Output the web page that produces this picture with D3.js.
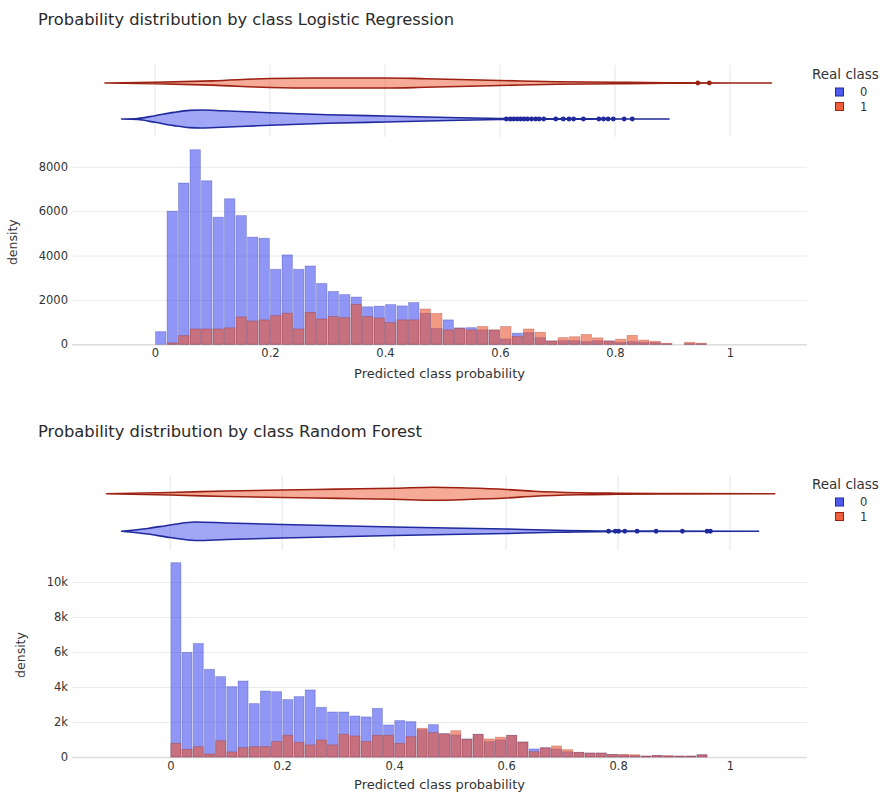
<!DOCTYPE html>
<html>
<head>
<meta charset="utf-8">
<script src="https://cdn.jsdelivr.net/npm/d3@7"></script>
<style>
  body { margin: 0; background: #fff; }
  svg { display: block; font-family: "DejaVu Sans", Verdana, sans-serif; }
</style>
</head>
<body>
<svg id="chart" width="892" height="792"></svg>
<script>
// ---------- data ----------
const classes = ["0", "1"];
const binSize = 0.02;
const xTicks = [0, 0.2, 0.4, 0.6, 0.8, 1];
const lrYTicks = [0, 2000, 4000, 6000, 8000];
const rfYTicks = [0, 2000, 4000, 6000, 8000, 10000];

// histogram counts per 0.02 bin, starting at 0
const lrCounts0 = [570, 6000, 7270, 8770, 7370, 5730, 6560, 5800, 4830, 4780,
  3380, 4030, 3380, 3530, 2740, 2380, 2240, 2130, 1690, 1720,
  1790, 1730, 1880, 1400, 720, 1100, 740, 750, 650, 640,
  240, 500, 530, 300, 150, 165, 165, 120, 165, 150,
  90, 120, 90, 75, 20, 0, 30, 20];
const lrCounts1 = [0, 60, 390, 690, 690, 690, 740, 1230, 1050, 1100,
  1290, 1400, 690, 1440, 1140, 1250, 1200, 1800, 1250, 1180,
  980, 1100, 1100, 1590, 1390, 650, 720, 650, 800, 650,
  800, 350, 690, 540, 150, 300, 340, 440, 290, 150,
  230, 400, 190, 135, 45, 0, 90, 50];

const rfCounts0 = [11100, 5980, 6480, 5010, 4590, 4020, 4340, 3050, 3770, 3730,
  3280, 3450, 3830, 2840, 2570, 2570, 2340, 2290, 2780, 1830,
  2080, 2020, 1560, 1850, 1330, 1260, 1030, 1300, 880, 980,
  1240, 860, 460, 530, 460, 300, 270, 230, 230, 150,
  110, 75, 55, 95, 55, 55, 55, 130];
const rfCounts1 = [780, 440, 590, 170, 930, 290, 530, 590, 590, 880,
  1240, 840, 690, 970, 690, 1300, 1200, 880, 1240, 1240,
  780, 1160, 1640, 1390, 1320, 1500, 1010, 1290, 1030, 1130,
  1230, 850, 300, 520, 630, 420, 260, 220, 220, 140,
  150, 130, 50, 85, 76, 50, 50, 120];

// violin outlines: [probability, relative density]
const lrViolin0 = [[-0.058, 0], [-0.03, 0.06], [0, 0.37], [0.033, 0.74], [0.06, 0.96],
  [0.08, 1], [0.117, 0.92], [0.16, 0.81], [0.2, 0.7], [0.3, 0.47], [0.4, 0.33],
  [0.51, 0.17], [0.6, 0.06], [0.66, 0.03], [0.75, 0.01], [0.894, 0]];
const lrViolin1 = [[-0.087, 0], [0, 0.08], [0.1, 0.24], [0.2, 0.5], [0.28, 0.56],
  [0.4, 0.56], [0.47, 0.48], [0.6, 0.28], [0.7, 0.14], [0.8, 0.08],
  [0.89, 0.03], [1.0, 0.005], [1.072, 0]];
const rfViolin0 = [[-0.087, 0], [-0.04, 0.3], [0, 0.68], [0.045, 1], [0.1, 0.89],
  [0.2, 0.72], [0.4, 0.46], [0.6, 0.24], [0.69, 0.11], [0.8, 0.02], [1.051, 0]];
const rfViolin1 = [[-0.114, 0], [0, 0.14], [0.1, 0.29], [0.2, 0.41], [0.3, 0.5],
  [0.4, 0.59], [0.47, 0.7], [0.53, 0.62], [0.6, 0.46], [0.65, 0.27],
  [0.73, 0.11], [0.8, 0.06], [0.9, 0.02], [1.08, 0]];

// outlier points drawn on the violins
const lrOutliers0 = [0.611, 0.618, 0.624, 0.63, 0.636, 0.642, 0.648, 0.655, 0.662, 0.668,
  0.676, 0.697, 0.71, 0.72, 0.728, 0.745, 0.772, 0.78, 0.788, 0.797, 0.816, 0.83];
const lrOutliers1 = [0.944, 0.964];
const rfOutliers0 = [0.783, 0.795, 0.801, 0.812, 0.834, 0.868, 0.915, 0.959, 0.965];
const rfOutliers1 = [];

// ---------- styles ----------
const colors = { "0": "#4450ee", "1": "#eb5732" };
const lineColors = { "0": "#1f2a9c", "1": "#9b2112" };

const svg = d3.select("#chart");

function drawChart(cfg) {
    let g = svg.append("g");

    let x = d3.scaleLinear().domain(cfg.xDomain).range([72, 807]);
    let yMax = d3.max(cfg.counts.flat()) * 1.05;
    let y = d3.scaleLinear().domain([0, yMax]).range([cfg.mainBottom, cfg.mainTop]);
    let yClass = d3.scaleBand().domain(["1", "0"]).range([cfg.margTop, cfg.margBottom]);

    // Title
    g.append("text").attr("x", 38).attr("y", cfg.titleY)
        .attr("font-size", 15).attr("fill", "#2a2a2a")
        .attr("textLength", cfg.titleWidth).attr("lengthAdjust", "spacingAndGlyphs")
        .text(cfg.title);

    // Vertical grid in the violin strip
    g.append("g").selectAll("line").data(xTicks).join("line")
        .attr("x1", d => x(d)).attr("x2", d => x(d))
        .attr("y1", cfg.margTop).attr("y2", cfg.margBottom)
        .attr("stroke", "#e6e6e6").attr("stroke-width", 1);

    // Y axis with horizontal gridlines
    let yAxis = d3.axisLeft(y).tickValues(cfg.yTicks)
        .tickSize(-735).tickPadding(4).tickFormat(cfg.yFormat);
    let ya = g.append("g").attr("transform", "translate(72,0)").call(yAxis);
    ya.select(".domain").remove();
    ya.selectAll(".tick line").attr("stroke", d => d === 0 ? "#dcdcdc" : "#ebebeb")
        .attr("stroke-width", d => d === 0 ? 1.5 : 1);
    ya.selectAll(".tick text").attr("font-size", 11.5).attr("fill", "#333")
        .attr("font-family", "DejaVu Sans, sans-serif");

    // X axis
    let xAxis = d3.axisBottom(x).tickValues(xTicks).tickSize(0).tickPadding(5)
        .tickFormat(d3.format("~g"));
    let xa = g.append("g").attr("transform", `translate(0,${cfg.mainBottom})`).call(xAxis);
    xa.select(".domain").remove();
    xa.selectAll(".tick text").attr("font-size", 11.5).attr("fill", "#333")
        .attr("font-family", "DejaVu Sans, sans-serif");

    // Axis titles
    g.append("text").attr("x", 439.5).attr("y", cfg.xTitleY)
        .attr("text-anchor", "middle").attr("font-size", 13).attr("fill", "#333")
        .text("Predicted class probability");
    g.append("text")
        .attr("transform", `translate(${cfg.yTitleX},${(cfg.mainTop + cfg.mainBottom) / 2}) rotate(-90)`)
        .attr("text-anchor", "middle").attr("font-size", 12.5).attr("fill", "#333")
        .text("density");

    // Overlaid histogram bars, class 0 first then class 1 on top
    classes.forEach((cls, k) => {
        let bins = cfg.counts[k].map((c, i) => ({ x0: i * binSize, x1: (i + 1) * binSize, c: c }));
        g.append("g").selectAll("rect").data(bins.filter(d => d.c > 0)).join("rect")
            .attr("x", d => x(d.x0) + 0.6)
            .attr("width", d => x(d.x1) - x(d.x0) - 1.2)
            .attr("y", d => y(d.c))
            .attr("height", d => y(0) - y(d.c))
            .attr("fill", colors[cls]).attr("fill-opacity", 0.6)
            .attr("stroke", lineColors[cls]).attr("stroke-opacity", 0.35).attr("stroke-width", 0.8);
    });

    // Violins
    let maxHalf = cfg.maxHalf;
    classes.forEach((cls, k) => {
        let cy = yClass(cls) + yClass.bandwidth() / 2;
        let area = d3.area()
            .x(d => x(d[0]))
            .y0(d => cy - d[1] * maxHalf)
            .y1(d => cy + d[1] * maxHalf)
            .curve(d3.curveMonotoneX);
        g.append("path").datum(cfg.violins[k])
            .attr("d", area)
            .attr("fill", colors[cls]).attr("fill-opacity", 0.5)
            .attr("stroke", lineColors[cls]).attr("stroke-width", 1.6)
            .attr("stroke-linejoin", "round");
        g.append("g").selectAll("circle").data(cfg.outliers[k]).join("circle")
            .attr("cx", d => x(d)).attr("cy", cy).attr("r", 2.4)
            .attr("fill", lineColors[cls]);
    });

    // Legend
    let lg = g.append("g").attr("transform", `translate(0,${cfg.margTop})`);
    lg.append("text").attr("x", 812).attr("y", 14).attr("font-size", 13.5)
        .attr("fill", "#333").text("Real class");
    classes.forEach((cls, k) => {
        let yy = 27 + k * 14.5;
        lg.append("rect").attr("x", 835.5).attr("y", yy - 4).attr("width", 8).attr("height", 8)
            .attr("fill", colors[cls]).attr("fill-opacity", 0.95)
            .attr("stroke", lineColors[cls]).attr("stroke-width", 1);
        lg.append("text").attr("x", 860).attr("y", yy + 4).attr("font-size", 11.5)
            .attr("fill", "#333").text(cls);
    });
}

drawChart({
    title: "Probability distribution by class Logistic Regression",
    titleY: 25, titleWidth: 416,
    xDomain: [-0.1443, 1.1339],
    margTop: 65, margBottom: 137,
    mainTop: 140, mainBottom: 344.3,
    yTicks: lrYTicks, yFormat: d3.format("d"),
    xTitleY: 378, yTitleX: 17,
    counts: [lrCounts0, lrCounts1],
    violins: [lrViolin0, lrViolin1],
    outliers: [lrOutliers0, lrOutliers1],
    maxHalf: 9
});

drawChart({
    title: "Probability distribution by class Random Forest",
    titleY: 437, titleWidth: 384,
    xDomain: [-0.1756, 1.1376],
    margTop: 475, margBottom: 550,
    mainTop: 553, mainBottom: 757,
    yTicks: rfYTicks, yFormat: d3.format("~s"),
    xTitleY: 789, yTitleX: 25,
    counts: [rfCounts0, rfCounts1],
    violins: [rfViolin0, rfViolin1],
    outliers: [rfOutliers0, rfOutliers1],
    maxHalf: 9.3
});
</script>
</body>
</html>
